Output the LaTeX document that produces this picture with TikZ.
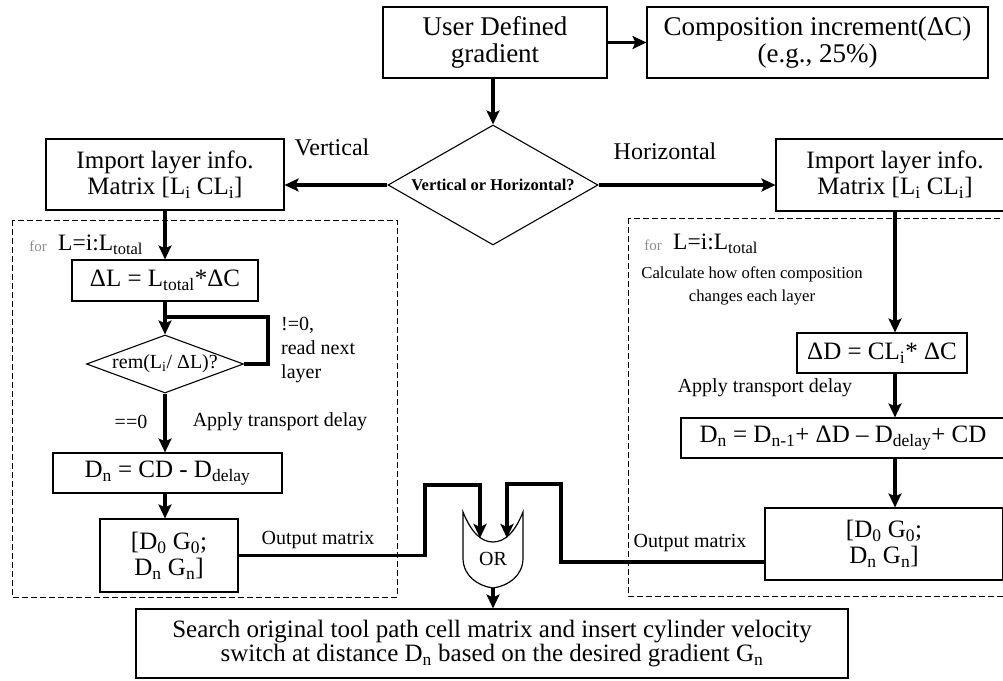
\documentclass[tikz,border=0pt]{standalone}
\usepackage{fontspec}
\setmainfont{Liberation Serif}
\usetikzlibrary{arrows.meta,shapes.geometric,calc}
\newcommand\sbs[1]{\textsubscript{#1}}

\begin{document}
\begin{tikzpicture}[x=1pt,y=-1pt,
  box/.style={draw, line width=1.1pt, inner sep=0pt, align=center,
    font=\fontsize{25}{26}\selectfont},
  decision/.style={draw, line width=1.1pt, shape=diamond, inner sep=0pt, aspect=2},
  flow/.style={line width=3.2pt, -{Stealth[length=14pt,width=13pt,inset=3pt]}},
  wire/.style={line width=3.2pt},
  lbl/.style={inner sep=0pt, align=center, font=\fontsize{20}{24}\selectfont},
  forlbl/.style={inner sep=0pt, text=black!45, font=\fontsize{15}{16}\selectfont},
  rangelbl/.style={inner sep=0pt, anchor=west, font=\fontsize{23.5}{24}\selectfont},
  loopbox/.style={draw, line width=0.9pt, dash pattern=on 6pt off 3pt},
]
\useasboundingbox (0,0) rectangle (1003,680);

% dashed loop regions
\draw[loopbox] (12,220) rectangle (397,597);
\draw[loopbox] (628,218) rectangle (1012,596);

% top row
\node[box, minimum width=224pt, minimum height=71pt, font=\fontsize{27}{27}\selectfont] (user) at (495,42.5) {User Defined\\gradient};
\node[box, minimum width=341pt, minimum height=71pt, font=\fontsize{27}{27}\selectfont] (comp) at (817.5,42.5) {Composition increment(ΔC)\\(e.g., 25\%)};
\draw[flow] (user) -- (comp);

% orientation decision
\node[decision, minimum width=210pt, minimum height=120pt] (dir) at (493,185)
  {\makebox[0pt]{\fontsize{16.5}{18}\selectfont\bfseries Vertical or Horizontal?}};
\draw[flow] (user.south -| dir.north) -- (dir.north);

\node[box, minimum width=238pt, minimum height=71pt] (limp) at (165,174.5) {Import layer info.\\Matrix [L\sbs{i} CL\sbs{i}]};
\node[box, minimum width=238pt, minimum height=72pt] (rimp) at (895,175) {Import layer info.\\Matrix [L\sbs{i} CL\sbs{i}]};
\draw[flow] (dir.west) -- (dir.west -| limp.east);
\draw[flow] (dir.east) -- (dir.east -| rimp.west);
\node[inner sep=0pt, font=\fontsize{24}{26}\selectfont] (vlab) at (332,147) {Vertical};
\node[inner sep=0pt, font=\fontsize{24}{26}\selectfont] (hlab) at (665,151) {Horizontal};

% vertical branch
\node[forlbl] (lfor) at (38,246) {for};
\node[rangelbl] (lrange) at (58,245) {L=i:L\sbs{total}};
\node[box, minimum width=186pt, minimum height=41pt] (dL) at (165,280.5) {ΔL = L\sbs{total}*ΔC};
\node[decision, minimum width=157pt, minimum height=58pt] (rem) at (165,364)
  {\makebox[0pt]{\fontsize{20}{22}\selectfont rem(L\sbs{i}/ ΔL)?}};
\node[box, minimum width=229pt, minimum height=40pt] (lDn) at (167.5,473) {D\sbs{n} = CD - D\sbs{delay}};
\node[box, minimum width=138pt, minimum height=73pt] (lD0) at (169,555.5) {[D\sbs{0} G\sbs{0};\\D\sbs{n} G\sbs{n}]};

\draw[flow] (limp.south) -- (dL.north);
\draw[flow] (dL.south) -- (rem.north);
\coordinate (loopc) at (268,317);
\coordinate (loopj) at (165,317);
\draw[wire] (rem.east) -| (loopc) -- (loopj);
\node[lbl, anchor=north west, align=left] (next) at (281,317) {!=0,\\read next\\layer};
\draw[flow] (rem.south) -- (rem.south |- lDn.north);
\node[lbl] (zero) at (131,422) {==0};
\node[lbl] (ldelay) at (280,422) {Apply transport delay};
\draw[flow] (rem.south |- lDn.south) -- (rem.south |- lD0.north);

% horizontal branch
\node[forlbl] (rfor) at (653,245) {for};
\node[rangelbl] (rrange) at (673,244) {L=i:L\sbs{total}};
\node[inner sep=0pt, align=center, font=\fontsize{16.7}{23}\selectfont] (calc) at (752,286)
  {Calculate how often composition\\changes each layer};
\node[box, minimum width=170pt, minimum height=40pt] (dD) at (882,353) {ΔD = CL\sbs{i}* ΔC};
\node[lbl] (rdelay) at (765,388) {Apply transport delay};
\node[box, minimum width=324pt, minimum height=40pt] (rDn) at (843,438)
  {D\sbs{n} = D\sbs{n-1}+ ΔD – D\sbs{delay}+ CD};
\node[box, minimum width=238pt, minimum height=72pt] (rD0) at (884,544) {[D\sbs{0} G\sbs{0};\\D\sbs{n} G\sbs{n}]};

\draw[flow] (rimp.south) -- (rimp.south |- dD.north);
\draw[flow] (rimp.south |- dD.south) -- (rimp.south |- rDn.north);
\draw[flow] (rimp.south |- rDn.south) -- (rimp.south |- rD0.north);

% OR gate joining both branches
\draw[line width=1.2pt] (463,512) -- (463,558)
  .. controls (463,576) and (478,586) .. (493,588)
  .. controls (508,586) and (523,576) .. (523,558) -- (523,512)
  .. controls (515,532) and (505,542) .. (493,542)
  .. controls (481,542) and (471,532) .. (463,512) -- cycle;
\node[inner sep=0pt, font=\fontsize{20}{22}\selectfont] (or) at (493,559) {OR};
\coordinate (orinL) at (480,538);
\coordinate (orinR) at (507,538);
\coordinate (orout) at (493,588);

\coordinate (la) at (425,485);
\draw[flow] (lD0.east) -| (la) -| (orinL);
\node[lbl] (lout) at (318,540) {Output matrix};

\coordinate (rout) at (765,562);
\coordinate (ra) at (561,484);
\draw[flow] (rout) -| (ra) -| (orinR);
\node[lbl] (rout lbl) at (690,543) {Output matrix};

% final step
\node[box, minimum width=712pt, minimum height=69pt, font=\fontsize{25}{24}\selectfont] (search) at (492,643.5)
  {Search original tool path cell matrix and insert cylinder velocity\\switch at distance D\sbs{n} based on the desired gradient G\sbs{n}};
\draw[flow] (orout) -- (orout |- search.north);
\end{tikzpicture}
\end{document}
